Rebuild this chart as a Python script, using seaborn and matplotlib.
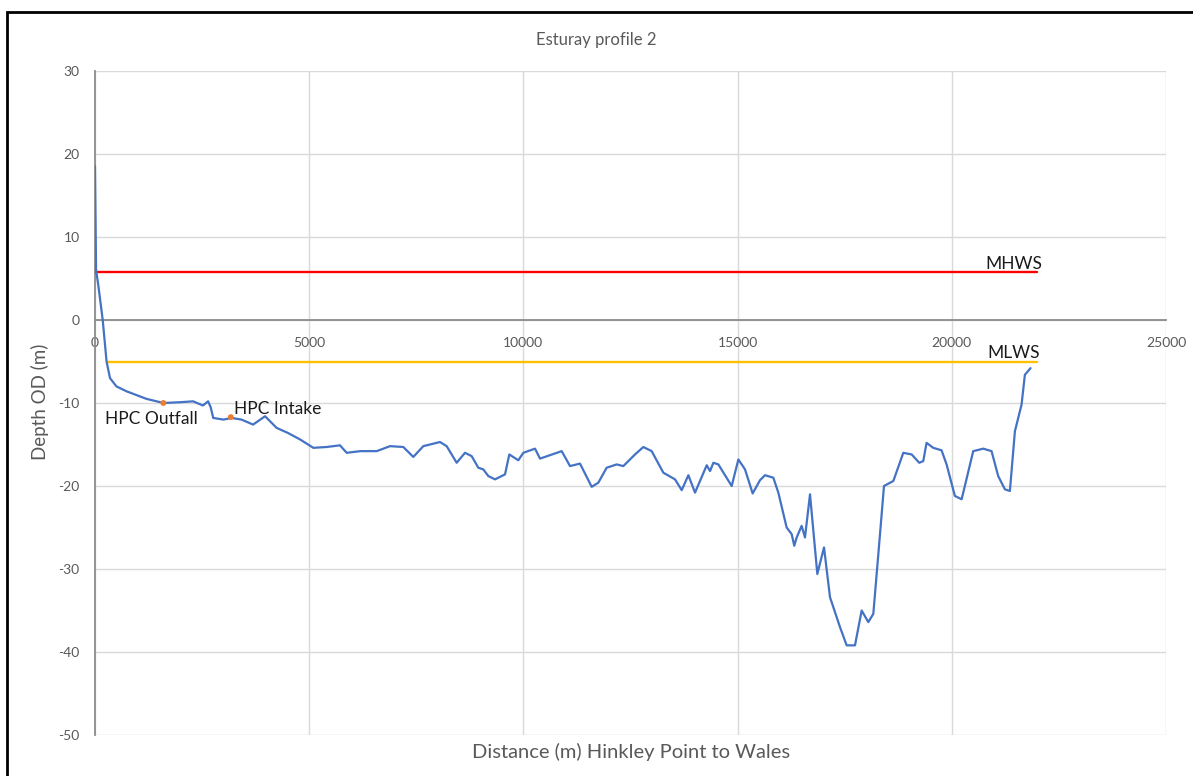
import matplotlib
matplotlib.use("Agg")
import matplotlib.pyplot as plt
import seaborn as sns
import pandas as pd
from matplotlib.patches import Rectangle

# ---- data ----
distance = [0, 25, 77, 180, 270, 350, 500, 740, 1200, 1600, 2000, 2290, 2520, 2640, 2700,
            2760, 3000, 3190, 3420, 3690, 3970, 4240, 4500, 4790, 5096, 5410, 5719, 5875,
            6200, 6575, 6886, 7197, 7430, 7663, 8053, 8209, 8442, 8637, 8792, 8948, 9064,
            9181, 9337, 9571, 9671, 9881, 9998, 10271, 10388, 10894, 11088, 11321, 11594,
            11749, 11943, 12177, 12333, 12605, 12800, 12994, 13267, 13539, 13695, 13851,
            14006, 14279, 14357, 14435, 14551, 14862, 15018, 15173, 15352, 15523, 15640,
            15834, 15951, 16145, 16262, 16323, 16379, 16495, 16573, 16690, 16861, 17017,
            17157, 17390, 17546, 17740, 17896, 18051, 18168, 18324, 18417, 18635, 18868,
            19063, 19240, 19334, 19411, 19567, 19761, 19878, 20072, 20230, 20500, 20734,
            20928, 21083, 21239, 21356, 21473, 21628, 21706, 21838]
depth = [18.5, 6.0, 4.2, 0.0, -5.0, -7.0, -8.0, -8.6, -9.5, -10.0, -9.9, -9.8, -10.3, -9.8, -10.5,
         -11.8, -12.0, -11.8, -12.0, -12.6, -11.6, -13.0, -13.6, -14.4, -15.4, -15.3, -15.1, -16.0,
         -15.8, -15.8, -15.2, -15.3, -16.5, -15.2, -14.7, -15.2, -17.2, -16.0, -16.4, -17.8, -18.0,
         -18.8, -19.2, -18.6, -16.2, -16.9, -16.0, -15.5, -16.7, -15.8, -17.6, -17.3, -20.1,
         -19.6, -17.8, -17.4, -17.6, -16.2, -15.3, -15.8, -18.4, -19.2, -20.5, -18.7,
         -20.8, -17.5, -18.2, -17.2, -17.4, -20.0, -16.8, -18.0, -20.9, -19.3, -18.7,
         -19.0, -20.8, -25.0, -25.8, -27.2, -26.2, -24.8, -26.2, -21.0, -30.6, -27.4,
         -33.4, -37.0, -39.2, -39.2, -35.0, -36.4, -35.4, -25.8, -20.0, -19.4, -16.0,
         -16.2, -17.2, -17.0, -14.8, -15.4, -15.7, -17.4, -21.2, -21.6, -15.8, -15.5,
         -15.8, -18.8, -20.4, -20.6, -13.4, -10.2, -6.6, -5.8]

mhws_x = [0, 22000]
mhws_y = [5.8, 5.8]
mlws_x = [270, 22000]
mlws_y = [-5.0, -5.0]

point_names = ["HPC Outfall", "HPC Intake"]
point_x = [1595, 3170]
point_y = [-10.0, -11.7]

level_names = ["MHWS", "MLWS"]

x_ticks = [0, 5000, 10000, 15000, 20000, 25000]
y_ticks = [30, 20, 10, 0, -10, -20, -30, -40, -50]

# ---- style ----
sns.set_style("white")
plt.rcParams['font.family'] = ['Lato', 'DejaVu Sans']

fig = plt.figure(figsize=(11.93, 7.76), dpi=100)
ax = fig.add_axes([95 / 1193, 1 - 735 / 776, (1166 - 95) / 1193, (735 - 71) / 776])

profile = pd.DataFrame({"distance": distance, "depth": depth})
sns.lineplot(data=profile, x="distance", y="depth", ax=ax, color="#4472C4",
             linewidth=1.6, estimator=None, sort=False, zorder=4)
sns.lineplot(x=mhws_x, y=mhws_y, ax=ax, color="#FF0000", linewidth=1.7, estimator=None, zorder=3)
sns.lineplot(x=mlws_x, y=mlws_y, ax=ax, color="#FFC000", linewidth=1.7, estimator=None, zorder=3)
sns.scatterplot(x=point_x, y=point_y, ax=ax, color="#ED7D31", s=18, edgecolor="none", zorder=5)

ax.set_xlim(0, 25000)
ax.set_ylim(-50, 30)
ax.set_xticks(x_ticks)
ax.set_yticks(y_ticks)
ax.set_xticklabels([str(v) for v in x_ticks])
ax.set_yticklabels([str(v) for v in y_ticks])
ax.grid(True, color="#d9d9d9", linewidth=1.0, zorder=0)
ax.set_axisbelow(True)

for s in ["top", "right"]:
    ax.spines[s].set_visible(False)
ax.spines["bottom"].set_position(("data", 0))
ax.spines["bottom"].set_color("#8c8c8c")
ax.spines["bottom"].set_linewidth(1.3)
ax.spines["left"].set_color("#8c8c8c")
ax.spines["left"].set_linewidth(1.3)
ax.spines["bottom"].set_zorder(2)

ax.tick_params(axis="x", length=0, pad=12, labelsize=10, labelcolor="#595959")
ax.tick_params(axis="y", length=0, pad=11, labelsize=10, labelcolor="#595959")
ax.set_xlabel("")
ax.set_ylabel("")

# annotations
ax.text(230, -11.9, point_names[0], fontsize=12.5, color="#1a1a1a", va="center", ha="left")
ax.text(3240, -10.7, point_names[1], fontsize=12.5, color="#1a1a1a", va="center", ha="left")
ax.text(21450, 6.7, level_names[0], fontsize=12.5, color="#1a1a1a", va="center", ha="center")
ax.text(21450, -4.0, level_names[1], fontsize=12.5, color="#1a1a1a", va="center", ha="center")

fig.text(596 / 1193, 1 - 40 / 776, "Esturay profile 2", fontsize=12, color="#595959",
         ha="center", va="center")
fig.text(40 / 1193, 1 - 402 / 776, "Depth OD (m)", fontsize=13.5, color="#595959",
         ha="center", va="center", rotation=90)
fig.text(631 / 1193, 1 - 752 / 776, "Distance (m) Hinkley Point to Wales", fontsize=14.5,
         color="#595959", ha="center", va="center")

# outer border (top & left visible)
fig.add_artist(Rectangle((7 / 1193, -0.05), 1.2, 1 - 12 / 776 + 0.05,
                         transform=fig.transFigure, fill=False, edgecolor="black",
                         linewidth=2))

fig.savefig("out.png", dpi=100)
